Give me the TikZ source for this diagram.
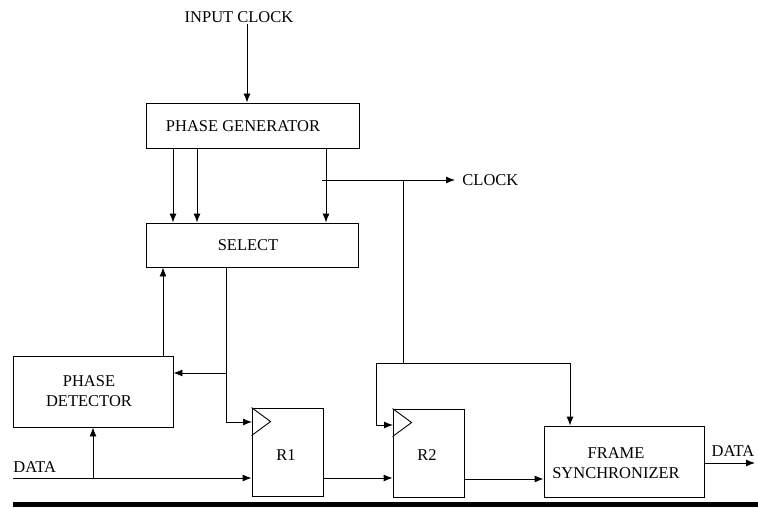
\documentclass[tikz,border=0pt]{standalone}
\usepackage{fontspec}
\setmainfont{Liberation Serif}
\usetikzlibrary{arrows.meta}
\begin{document}
\begin{tikzpicture}[x=1pt,y=-1pt,
  font=\fontsize{16.5}{20}\selectfont,
  line width=0.9pt,
  arr/.style={-{Latex[length=9pt,width=7pt]}},
  blk/.style={draw, rectangle, inner sep=0pt, align=center},
  lbl/.style={inner sep=1pt, align=center}]
\useasboundingbox (0,0) rectangle (758,508);
% boxes
\node[blk, minimum width=213pt, minimum height=45pt] (pg) at (252.5,125.5) {};
\node[lbl] (pgt) at (243,126) {PHASE GENERATOR};
\node[blk, minimum width=212pt, minimum height=44pt] (sel) at (252,245) {};
\node[lbl] (selt) at (248,245) {SELECT};
\node[blk, minimum width=160pt, minimum height=71pt] (pd) at (93,391.5) {};
\node[lbl] (pdt) at (89,391) {PHASE\\DETECTOR};
\node[blk, minimum width=71pt, minimum height=88pt] (r1) at (287.5,452) {};
\node[lbl] (r1t) at (286,455) {R1};
\node[blk, minimum width=71pt, minimum height=88pt] (r2) at (428.5,453) {};
\node[lbl] (r2t) at (427,455) {R2};
\node[blk, minimum width=160pt, minimum height=71pt] (fs) at (624,461.5) {};
\node[lbl] (fst) at (616,463) {FRAME\\SYNCHRONIZER};
% clock triangles
\draw (r1.north west) -- ++(19,14) -- ++(-19,14);
\draw (r2.north west) -- ++(19,14) -- ++(-19,14);
% texts
\node[lbl] (in) at (239,17) {INPUT CLOCK};
\node[lbl, anchor=west] (clk) at (461,180) {CLOCK};
\node[lbl, anchor=west] (din) at (12,467) {DATA};
\node[lbl] (dout) at (733,451) {DATA};
% coordinates
\coordinate (xin) at (247,0);
\coordinate (x1) at (173,0);
\coordinate (x2) at (197,0);
\coordinate (x3) at (326,0);
\coordinate (c0) at (322,180);
\coordinate (c1) at (455,180);
\coordinate (j1) at (403,180);
\coordinate (j2) at (403,363);
\coordinate (k1) at (376,363);
\coordinate (k2) at (570,363);
\coordinate (r2c) at (393,425);
\coordinate (s0) at (226,267);
\coordinate (s1) at (226,373);
\coordinate (r1c) at (252,422);
\coordinate (xp) at (163,0);
\coordinate (d0) at (13,478);
\coordinate (d1) at (93,478);
\coordinate (yd) at (0,478);
\coordinate (yd2) at (0,479);
\coordinate (yo) at (0,463);
\coordinate (dend) at (755,463);
% connectors
\draw[arr] (in.south -| xin) -- (pg.north -| xin);
\draw[arr] (pg.south -| x1) -- (sel.north -| x1);
\draw[arr] (pg.south -| x2) -- (sel.north -| x2);
\draw[arr] (pg.south -| x3) -- (sel.north -| x3);
\draw[arr] (c0) -- (c1);
\draw (j1) -- (j2);
\draw[arr] (k1) -- (k2) -- (fs.north -| k2);
\draw[arr] (k1) |- (r2c);
\draw[arr] (s0) |- (r1c);
\draw[arr] (s1) -- (pd.east |- s1);
\draw[arr] (pd.north -| xp) -- (sel.south -| xp);
\draw[arr] (d0) -- (r1.west |- yd);
\draw[arr] (d1) -- (pd.south -| d1);
\draw[arr] (r1.east |- yd) -- (r2.west |- yd);
\draw[arr] (r2.east |- yd2) -- (fs.west |- yd2);
\draw[arr] (fs.east |- yo) -- (dend);
% bottom bar
\fill (13,502) rectangle (758,507);
\end{tikzpicture}
\end{document}
